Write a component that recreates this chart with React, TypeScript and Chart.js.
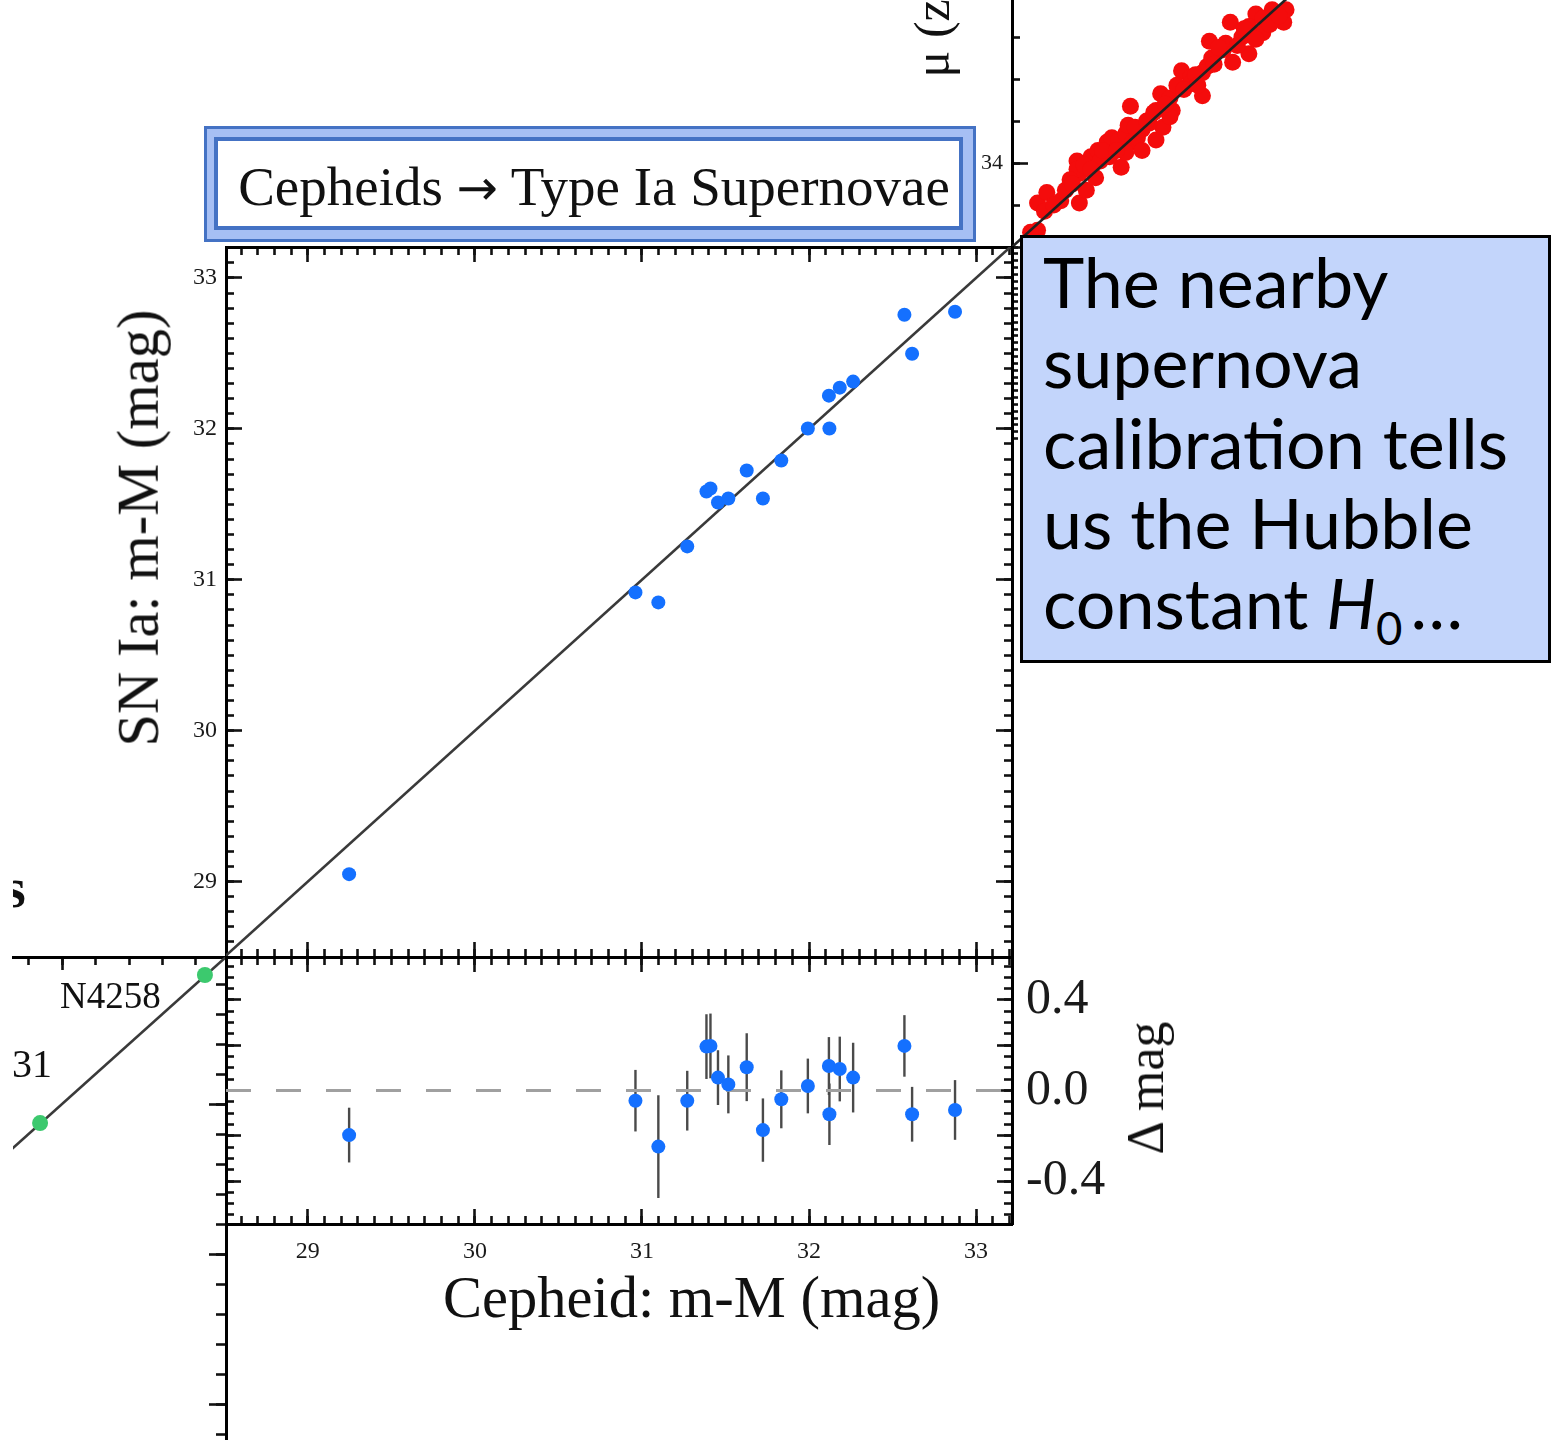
import React, { useEffect, useRef } from 'react';
import { Chart, registerables } from 'chart.js';

Chart.register(...registerables);

const SERIF = "'Liberation Serif', 'Times New Roman', Times, serif";
const SANS = "Lato, 'Open Sans', 'Noto Sans', sans-serif";
Chart.defaults.font.family = SERIF;

// ---- Cepheid hosts of SN Ia: distance moduli (mag) ----
const cepheidMu = [29.247, 30.961, 31.098, 31.271, 31.386, 31.41, 31.455, 31.517, 31.627, 31.724, 31.834, 31.993, 32.119, 32.122, 32.184, 32.264, 32.571, 32.617, 32.874];
const snIaMu = [29.049, 30.916, 30.85, 31.221, 31.585, 31.605, 31.512, 31.538, 31.724, 31.538, 31.79, 32.002, 32.22, 32.002, 32.273, 32.313, 32.756, 32.498, 32.776];
// residuals SN Ia - Cepheid and their 1-sigma errors
const deltaMag = [-0.197, -0.045, -0.248, -0.045, 0.194, 0.197, 0.057, 0.027, 0.103, -0.175, -0.039, 0.02, 0.108, -0.105, 0.095, 0.057, 0.197, -0.105, -0.086];
const deltaErr = [0.121, 0.136, 0.227, 0.132, 0.143, 0.143, 0.121, 0.128, 0.15, 0.14, 0.128, 0.121, 0.128, 0.136, 0.143, 0.154, 0.136, 0.121, 0.132];

// ---- geometric anchors (lower-left rung) ----
const anchorCepheidMu = [28.854, 27.868];
const anchorGeoMu = [28.86, 27.873];

// ---- Hubble-flow SNe Ia (upper-right rung) ----
const hubbleX = [33.71, 33.68, 33.71, 33.75, 33.81, 33.89, 33.89, 33.88, 33.94, 33.92, 33.96, 33.97, 34.01, 34.03, 34.07, 34.06, 34.09, 34.11, 34.12, 34.14, 34.16, 34.22, 34.22, 34.25, 34.24, 34.28, 34.29, 34.33, 34.37, 34.42, 34.44, 34.45, 34.46, 34.51, 34.54, 34.55, 34.59, 34.62, 34.65, 34.68, 34.72, 34.77, 34.78, 33.88, 33.85, 33.98, 34.02, 34.19, 34.28, 34.37, 34.42, 34.52, 34.62, 34.7, 34.16, 34.09, 33.74, 33.78, 33.83, 33.86, 33.91, 33.94, 33.99, 34.05, 34.1, 34.13, 34.18, 34.21, 34.26, 34.31, 34.34, 34.39, 34.4, 34.47, 34.49, 34.57, 34.6, 34.65, 34.68, 34.71, 34.75];
const hubbleMu = [33.68, 33.67, 33.81, 33.86, 33.82, 33.81, 33.95, 34.01, 34.03, 33.87, 33.93, 34.06, 34.1, 34.12, 33.98, 34.11, 34.14, 34.27, 34.1, 34.12, 34.06, 34.11, 34.25, 34.17, 34.33, 34.31, 34.25, 34.44, 34.41, 34.32, 34.46, 34.58, 34.5, 34.54, 34.67, 34.48, 34.6, 34.52, 34.71, 34.62, 34.73, 34.67, 34.73, 33.97, 33.92, 34.01, 34.03, 34.19, 34.22, 34.38, 34.43, 34.57, 34.65, 34.68, 34.16, 34.05, 33.77, 33.8, 33.87, 33.9, 33.99, 33.97, 34.06, 34.06, 34.18, 34.17, 34.2, 34.24, 34.28, 34.37, 34.35, 34.42, 34.37, 34.47, 34.55, 34.56, 34.64, 34.59, 34.69, 34.66, 34.7];

// one-to-one relation and axis ranges
const unityEnds = [24, 37];
const cephRange = [28.51, 33.215];
const snRange = [28.5, 33.205];
const deltaRange = [-0.59, 0.59];
const deltaLabels = [0.4, 0, -0.4];
const anchorXRange = [27.706, 28.98];
const anchorYRange = [25.647, 28.98];
const hubbleXRange = [33.6, 35.923];
const hubbleYRange = [33.6, 34.967];
const hubbleResidRange = [-0.71, 0.7];

type Side = 'left' | 'right' | 'top' | 'bottom';
interface AxisSpec {
  side: Side;
  range: number[];
  step: number;
  len: number;
  border?: boolean;
  weight?: number;
  size?: number;
  label?: { font: number; padding: number; format: (v: number) => string };
}

// Linear axis with tick marks pointing into the plot area; the box size is fixed
function inwardAxis(a: AxisSpec) {
  const horizontal = a.side === 'top' || a.side === 'bottom';
  return {
    type: 'linear',
    axis: horizontal ? 'x' : 'y',
    position: a.side,
    min: a.range[0],
    max: a.range[1],
    weight: a.weight ?? 0,
    afterFit: (s: any) => {
      if (horizontal) s.height = a.size ?? 0;
      else s.width = a.size ?? 0;
      s.paddingLeft = 0;
      s.paddingRight = 0;
      s.paddingTop = 0;
      s.paddingBottom = 0;
    },
    border: { display: a.border ?? false, color: '#000', width: 3 },
    grid: { display: true, drawOnChartArea: false, drawTicks: true, tickLength: -a.len, tickWidth: 2.6, tickColor: '#111' },
    ticks: {
      display: !!a.label,
      stepSize: a.step,
      includeBounds: false,
      autoSkip: false,
      maxRotation: 0,
      minRotation: 0,
      padding: a.label ? a.label.padding : 0,
      color: '#1a1a1a',
      font: { family: SERIF, size: a.label ? a.label.font : 12 },
      callback: (v: any) => (a.label ? a.label.format(Number(v)) : ''),
    },
  };
}

function baseOptions(padding: any, scales: any) {
  return {
    responsive: false,
    maintainAspectRatio: false,
    animation: false,
    devicePixelRatio: 1,
    events: [],
    layout: { padding },
    plugins: { legend: { display: false }, tooltip: { enabled: false }, title: { display: false } },
    scales,
  };
}

const unityLine = (color: string) => ({
  data: unityEnds.map((v) => ({ x: v, y: v })),
  showLine: true,
  borderColor: color,
  borderWidth: 2.6,
  pointRadius: 0,
});

const intLabel = (v: number) => v.toFixed(0);

// error bars drawn under the residual points
const errorBars = {
  id: 'errorBars',
  beforeDatasetsDraw(chart: any) {
    const { ctx } = chart;
    const x = chart.scales.x;
    const y = chart.scales.y;
    ctx.save();
    ctx.strokeStyle = '#4a4a4a';
    ctx.lineWidth = 2.4;
    cepheidMu.forEach((c, i) => {
      const px = x.getPixelForValue(c);
      ctx.beginPath();
      ctx.moveTo(px, y.getPixelForValue(deltaMag[i] - deltaErr[i]));
      ctx.lineTo(px, y.getPixelForValue(deltaMag[i] + deltaErr[i]));
      ctx.stroke();
    });
    ctx.restore();
  },
};

function buildMain() {
  return {
    type: 'scatter',
    data: {
      datasets: [
        {
          data: cepheidMu.map((x, i) => ({ x, y: snIaMu[i] })),
          pointRadius: 7,
          pointBackgroundColor: '#1470ff',
          pointBorderWidth: 0,
        },
        unityLine('#3a3a3a'),
      ],
    },
    options: baseOptions({ left: 66, top: 17, right: 10, bottom: 13 }, {
      x: inwardAxis({ side: 'bottom', range: cephRange, step: 1, len: 15, border: true, weight: 1 }),
      xMinor: inwardAxis({ side: 'bottom', range: cephRange, step: 0.1, len: 8 }),
      xTop: inwardAxis({ side: 'top', range: cephRange, step: 1, len: 15, border: true, weight: 1 }),
      xTopMinor: inwardAxis({ side: 'top', range: cephRange, step: 0.1, len: 8 }),
      y: inwardAxis({ side: 'left', range: snRange, step: 1, len: 16, border: true, weight: 1, size: 60, label: { font: 24, padding: 25, format: intLabel } }),
      yMinor: inwardAxis({ side: 'left', range: snRange, step: 0.1, len: 8 }),
      yRight: inwardAxis({ side: 'right', range: snRange, step: 1, len: 16, border: true, weight: 1 }),
      yRightMinor: inwardAxis({ side: 'right', range: snRange, step: 0.1, len: 8 }),
    }),
  };
}

function buildResidual() {
  const fmt = (v: number) => {
    if (!deltaLabels.some((t) => Math.abs(t - v) < 1e-6)) return '';
    return Math.abs(v) < 1e-6 ? '0.0' : v.toFixed(1);
  };
  return {
    type: 'scatter',
    data: {
      datasets: [
        {
          data: cepheidMu.map((x, i) => ({ x, y: deltaMag[i] })),
          pointRadius: 7,
          pointBackgroundColor: '#1470ff',
          pointBorderWidth: 0,
        },
        {
          data: [{ x: cephRange[0], y: 0 }, { x: cephRange[1], y: 0 }],
          showLine: true,
          borderColor: '#a0a0a0',
          borderWidth: 3,
          borderDash: [25, 25],
          pointRadius: 0,
        },
      ],
    },
    options: baseOptions({ left: 126, top: 17, right: 8, bottom: 16 }, {
      x: inwardAxis({ side: 'bottom', range: cephRange, step: 1, len: 15, border: true, weight: 1, size: 60, label: { font: 24, padding: 28, format: intLabel } }),
      xMinor: inwardAxis({ side: 'bottom', range: cephRange, step: 0.1, len: 8 }),
      xTop: inwardAxis({ side: 'top', range: cephRange, step: 1, len: 15, border: true, weight: 1 }),
      xTopMinor: inwardAxis({ side: 'top', range: cephRange, step: 0.1, len: 8 }),
      y: inwardAxis({ side: 'left', range: deltaRange, step: 0.2, len: 15, border: true, weight: 1 }),
      yMinor: inwardAxis({ side: 'left', range: deltaRange, step: 0.05, len: 8 }),
      yRight: inwardAxis({ side: 'right', range: deltaRange, step: 0.2, len: 15, border: true, weight: 1, size: 100, label: { font: 50, padding: 29, format: fmt } }),
      yRightMinor: inwardAxis({ side: 'right', range: deltaRange, step: 0.05, len: 8 }),
    }),
    plugins: [errorBars],
  };
}

function buildAnchors() {
  return {
    type: 'scatter',
    data: {
      datasets: [
        {
          data: anchorCepheidMu.map((x, i) => ({ x, y: anchorGeoMu[i] })),
          pointRadius: 8,
          pointBackgroundColor: '#3cc96e',
          pointBorderWidth: 0,
        },
        unityLine('#3a3a3a'),
      ],
    },
    options: baseOptions({ left: 10, top: 10, right: 10, bottom: 10 }, {
      x: inwardAxis({ side: 'top', range: anchorXRange, step: 1, len: 13, border: true, weight: 1 }),
      xMinor: inwardAxis({ side: 'top', range: anchorXRange, step: 0.2, len: 8 }),
      y: inwardAxis({ side: 'right', range: anchorYRange, step: 1, len: 17, border: true, weight: 1 }),
      yMinor: inwardAxis({ side: 'right', range: anchorYRange, step: 0.2, len: 10 }),
    }),
  };
}

function buildHubble() {
  return {
    type: 'scatter',
    data: {
      datasets: [
        unityLine('#222'),
        {
          data: hubbleX.map((x, i) => ({ x, y: hubbleMu[i] })),
          pointRadius: 8.5,
          pointBackgroundColor: '#f40c0c',
          pointBorderWidth: 0,
        },
      ],
    },
    options: baseOptions({ left: 10, top: 10, right: 8, bottom: 10 }, {
      x: { type: 'linear', display: false, min: hubbleXRange[0], max: hubbleXRange[1] },
      y: inwardAxis({ side: 'left', range: hubbleYRange, step: 1, len: 16, border: true, weight: 1, size: 40, label: { font: 22, padding: 25, format: intLabel } }),
      yMinor: inwardAxis({ side: 'left', range: hubbleYRange, step: 0.2, len: 8 }),
    }),
  };
}

function buildHubbleResid() {
  return {
    type: 'scatter',
    data: { datasets: [] },
    options: baseOptions({ left: 10, top: 10, right: 10, bottom: 10 }, {
      x: { type: 'linear', display: false, min: 0, max: 1 },
      y: inwardAxis({ side: 'left', range: hubbleResidRange, step: 0.05, len: 6, border: true }),
    }),
  };
}

interface Box { left: number; top: number; width: number; height: number }

function ChartLayer({ box, build }: { box: Box; build: () => any }) {
  const ref = useRef<HTMLCanvasElement | null>(null);
  useEffect(() => {
    if (!ref.current) return;
    const chart = new Chart(ref.current, build());
    return () => chart.destroy();
  }, [build]);
  return (
    <canvas
      ref={ref}
      width={box.width}
      height={box.height}
      style={{ position: 'absolute', left: box.left, top: box.top, width: box.width, height: box.height }}
    />
  );
}

function Baseline(props: { x: number; y: number; size: number; bold?: boolean; center?: boolean; children: any }) {
  const { x, y, size, bold, center, children } = props;
  return (
    <div
      style={{
        position: 'absolute',
        left: x,
        top: y - 0.8375 * size,
        fontFamily: SERIF,
        fontSize: size,
        lineHeight: `${size}px`,
        fontWeight: bold ? 700 : 400,
        whiteSpace: 'nowrap',
        color: '#111',
        transform: center ? 'translateX(-50%)' : undefined,
      }}
    >
      {children}
    </div>
  );
}

function Rotated(props: { cx: number; cy: number; size: number; children: any }) {
  const { cx, cy, size, children } = props;
  return (
    <div
      style={{
        position: 'absolute',
        left: cx,
        top: cy,
        fontFamily: SERIF,
        fontSize: size,
        lineHeight: `${size}px`,
        whiteSpace: 'nowrap',
        color: '#111',
        transform: 'translate(-50%, -50%) rotate(-90deg)',
      }}
    >
      {children}
    </div>
  );
}

export default function App() {
  return (
    <div style={{ position: 'absolute', left: 0, top: 0, width: 1551, height: 1440, overflow: 'hidden', background: '#fff' }}>
      <ChartLayer box={{ left: 3, top: 947, width: 233, height: 520 }} build={buildAnchors} />
      <ChartLayer box={{ left: 100, top: 230, width: 922, height: 740 }} build={buildMain} />
      <ChartLayer box={{ left: 100, top: 940, width: 1020, height: 360 }} build={buildResidual} />
      <ChartLayer box={{ left: 962, top: -50, width: 598, height: 307 }} build={buildHubble} />
      <ChartLayer box={{ left: 1002, top: 237, width: 30, height: 213 }} build={buildHubbleResid} />

      <div style={{ position: 'absolute', left: 13, top: 868, width: 40, height: 52, overflow: 'hidden' }}>
        <div style={{ position: 'absolute', left: -9, top: 0 }}>
          <Baseline x={0} y={39} size={56} bold>s</Baseline>
        </div>
      </div>
      <Baseline x={60} y={1008} size={37}>N4258</Baseline>
      <Baseline x={12} y={1077} size={40}>31</Baseline>

      <Rotated cx={139} cy={528} size={58.5}>SN Ia: m-M (mag)</Rotated>
      <Baseline x={443} y={1318} size={58.5}>Cepheid: m-M (mag)</Baseline>
      <Rotated cx={1146} cy={1088} size={52}>Δ mag</Rotated>
      <Rotated cx={932} cy={30} size={50}>μ (z)</Rotated>

      <div style={{ position: 'absolute', left: 204, top: 126, width: 772, height: 116, boxSizing: 'border-box', border: '3px solid #4472c4', background: '#a6bff4' }} />
      <div style={{ position: 'absolute', left: 214, top: 137, width: 749, height: 93, boxSizing: 'border-box', border: '4px solid #4472c4', background: '#fff' }} />
      <Baseline x={594} y={205} size={55} center>
        Cepheids <span style={{ fontFamily: "'DejaVu Sans', sans-serif", fontSize: '0.9em' }}>→</span> Type Ia Supernovae
      </Baseline>

      <div style={{ position: 'absolute', left: 1020, top: 235, width: 531, height: 428, boxSizing: 'border-box', border: '3px solid #000', background: '#c3d5fb' }} />
      <div
        style={{
          position: 'absolute',
          left: 1043,
          top: 241,
          fontFamily: SANS,
          fontSize: 70,
          lineHeight: '80.3px',
          color: '#000',
          whiteSpace: 'nowrap',
        }}
      >
        The nearby
        <br />
        supernova
        <br />
        calibration tells
        <br />
        us the Hubble
        <br />
        constant <span style={{ fontStyle: 'italic' }}>H</span>
        <span style={{ fontSize: '0.65em', position: 'relative', top: 16 }}>0</span>
        <span style={{ marginLeft: 8 }}>…</span>
      </div>
    </div>
  );
}
